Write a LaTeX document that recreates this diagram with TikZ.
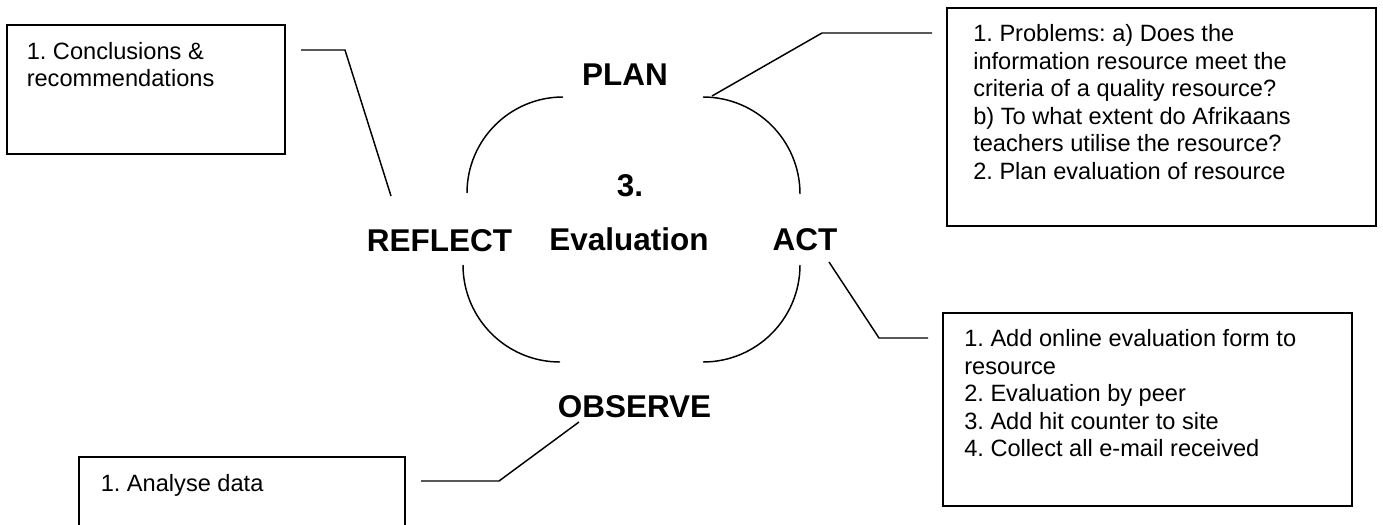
\documentclass[tikz,border=0pt]{standalone}
\usepackage{fontspec}
\setmainfont{Liberation Sans}
\frenchspacing
\begin{document}
\begin{tikzpicture}[x=0.75pt,y=-0.75pt,
  box/.style={draw,line width=1.4pt,anchor=north west,inner sep=0pt,outer sep=0pt},
  note/.style={anchor=north west,inner sep=0pt,align=left,font=\fontsize{17.7pt}{20.6pt}\selectfont\frenchspacing},
  stage/.style={anchor=base,inner sep=0pt,font=\fontsize{23.6pt}{28pt}\selectfont\bfseries},
  link/.style={line width=1.1pt,line join=miter},
  loopline/.style={line width=1.1pt}]
\useasboundingbox (0,0) rectangle (1383,524);

% boxes
\node[box,minimum width=208.5pt,minimum height=96.75pt] (reflectbox) at (7,25) {};
\node[box,minimum width=321.75pt,minimum height=163.5pt] (planbox) at (947,8) {};
\node[box,minimum width=306.75pt,minimum height=144.75pt] (actbox) at (943,313) {};
\node[box,minimum width=244.5pt,minimum height=80pt] (observebox) at (79,457) {};

% box texts
\node[note] (reflecttext) at (26.5,40) {\strut 1. Conclusions \&\\recommendations};
\node[note] (plantext) at (973,22.4) {\strut 1. Problems: a) Does the\\information resource meet the\\criteria of a quality resource?\\b) To what extent do Afrikaans\\teachers utilise the resource?\\2. Plan evaluation of resource};
\node[note] (acttext) at (964,327.4) {\strut 1. Add online evaluation form to\\resource\\2. Evaluation by peer\\3. Add hit counter to site\\4. Collect all e-mail received};
\node[note] (observetext) at (100.5,471.7) {\strut 1. Analyse data};

% cycle labels
\node[stage] (plan) at (625,86) {PLAN};
\node[stage] (three) at (630,196) {3.};
\node[stage] (reflect) at (439.5,251) {REFLECT};
\node[stage] (evaluation) at (629,250) {Evaluation};
\node[stage] (act) at (805,250) {ACT};
\node[stage] (observe) at (634.5,417) {OBSERVE};

% cycle arcs
\draw[loopline] (563,97) arc[start angle=270,end angle=180,radius=96];
\draw[loopline] (703,97) arc[start angle=270,end angle=360,radius=97];
\draw[loopline] (463,265) arc[start angle=180,end angle=90,radius=97];
\draw[loopline] (800,265) arc[start angle=0,end angle=90,radius=97];

% connectors
\coordinate (r1) at (301,50);
\coordinate (r2) at (345,50);
\coordinate (r3) at (391,196);
\draw[link] (r1) -- (r2) -- (r3);

\coordinate (p1) at (932,33);
\coordinate (p2) at (822,33);
\coordinate (p3) at (712,96);
\draw[link] (p1) -- (p2) -- (p3);

\coordinate (a1) at (829,262);
\coordinate (a2) at (879,338);
\coordinate (a3) at (928,338);
\draw[link] (a1) -- (a2) -- (a3);

\coordinate (o1) at (579,422);
\coordinate (o2) at (499,481);
\coordinate (o3) at (421,481);
\draw[link] (o1) -- (o2) -- (o3);
\end{tikzpicture}
\end{document}
